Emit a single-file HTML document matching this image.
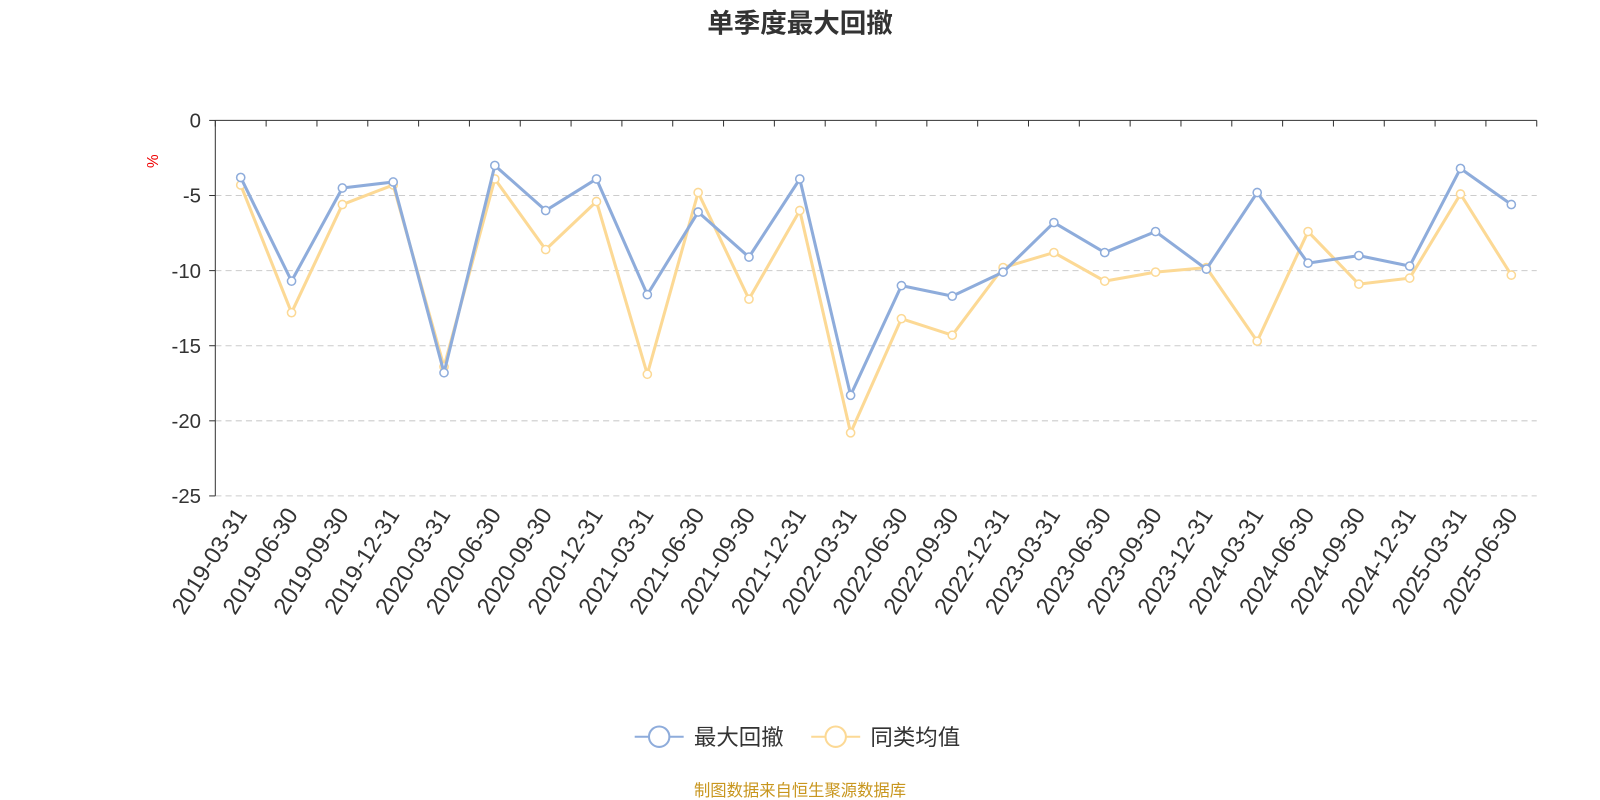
<!DOCTYPE html>
<html><head><meta charset="utf-8">
<style>
html,body{margin:0;padding:0;background:#fff;}
svg{display:block;font-family:"Liberation Sans","Noto Sans CJK SC",sans-serif;}
</style></head>
<body>
<svg id="chart" width="1600" height="800" viewBox="0 0 1568 784">
<text x="784" y="32" text-anchor="middle" font-size="26" font-weight="bold" fill="#333">单季度最大回撤</text>
<text x="155" y="158" font-size="15" fill="#e00" transform="rotate(-90 155 158)" text-anchor="middle">%</text>
<g id="grid"></g>
<g id="axes"></g>
<g id="series"></g>
<g>
  <g>
    <line x1="622" y1="722" x2="670" y2="722" stroke="#8eacdb" stroke-width="2"/>
    <circle cx="646" cy="722" r="10" fill="#fff" stroke="#8eacdb" stroke-width="2"/>
    <text x="680" y="730" font-size="22" fill="#333">最大回撤</text>
  </g>
  <g>
    <line x1="795" y1="722" x2="843" y2="722" stroke="#fcd995" stroke-width="2"/>
    <circle cx="819" cy="722" r="10" fill="#fff" stroke="#fcd995" stroke-width="2"/>
    <text x="853" y="730" font-size="22" fill="#333">同类均值</text>
  </g>
</g>
<text x="784" y="780" text-anchor="middle" font-size="16" fill="#c8961e">制图数据来自恒生聚源数据库</text>
</svg>
<script>
const categories=["2019-03-31","2019-06-30","2019-09-30","2019-12-31","2020-03-31","2020-06-30","2020-09-30","2020-12-31","2021-03-31","2021-06-30","2021-09-30","2021-12-31","2022-03-31","2022-06-30","2022-09-30","2022-12-31","2023-03-31","2023-06-30","2023-09-30","2023-12-31","2024-03-31","2024-06-30","2024-09-30","2024-12-31","2025-03-31","2025-06-30"];
const maxDrawdown=[-3.8,-10.7,-4.5,-4.1,-16.8,-3.0,-6.0,-3.9,-11.6,-6.1,-9.1,-3.9,-18.3,-11.0,-11.7,-10.1,-6.8,-8.8,-7.4,-9.9,-4.8,-9.5,-9.0,-9.7,-3.2,-5.6];
const peerAverage=[-4.3,-12.8,-5.6,-4.3,-16.4,-3.9,-8.6,-5.4,-16.9,-4.8,-11.9,-6.0,-20.8,-13.2,-14.3,-9.8,-8.8,-10.7,-10.1,-9.8,-14.7,-7.4,-10.9,-10.5,-4.9,-10.3];
const yTicks=[0,-5,-10,-15,-20,-25];

const NS="http://www.w3.org/2000/svg";
const L=211,R=1506,T=118,B=486,yMin=-25,yMax=0;
const band=(R-L)/categories.length;
const xPos=i=>L+band*(i+0.5);
const yPos=v=>T+(yMax-v)/(yMax-yMin)*(B-T);
function mk(tag,attrs,parent){const e=document.createElementNS(NS,tag);for(const k in attrs)e.setAttribute(k,attrs[k]);parent.appendChild(e);return e;}
const grid=document.getElementById('grid'),axes=document.getElementById('axes'),series=document.getElementById('series');

yTicks.forEach(v=>{
  const y=yPos(v);
  if(v!==0){const g=mk('line',{x1:L,x2:R,y1:y,y2:y,stroke:'#ccc','stroke-dasharray':'6,4'},grid);
  
  }
  mk('line',{x1:L-6,x2:L,y1:y,y2:y,stroke:'#333'},axes);
  const t=mk('text',{x:L-14,y:y+7,'text-anchor':'end','font-size':'20',fill:'#333'},axes);
  t.textContent=v;
  
  
});
mk('line',{x1:L,x2:L,y1:T,y2:B,stroke:'#333'},axes);
mk('line',{x1:L,x2:R,y1:T,y2:T,stroke:'#333'},axes);
for(let i=0;i<=categories.length;i++){const x=L+band*i;mk('line',{x1:x,x2:x,y1:T,y2:T+6,stroke:'#333'},axes);}
categories.forEach((c,i)=>{
  const x=xPos(i)+7,y=B+18;
  const t=mk('text',{x:x,y:y,'text-anchor':'end','font-size':'23',fill:'#333',transform:`rotate(-58 ${x} ${y})`},axes);
  t.textContent=c;
  
  
});
function drawSeries(data,color,name){
  const g=mk('g',{},series);
  
  
  mk('polyline',{points:data.map((v,i)=>xPos(i)+','+yPos(v)).join(' '),fill:'none',stroke:color,'stroke-width':3,'stroke-linejoin':'round'},g);
  data.forEach((v,i)=>{const c=mk('circle',{cx:xPos(i),cy:yPos(v),r:4,fill:'#fff',stroke:color,'stroke-width':1.5},g);
  
  });
}
drawSeries(peerAverage,'#fcd995','series-peer-average');
drawSeries(maxDrawdown,'#8eacdb','series-max-drawdown');
</script>
</body></html>
